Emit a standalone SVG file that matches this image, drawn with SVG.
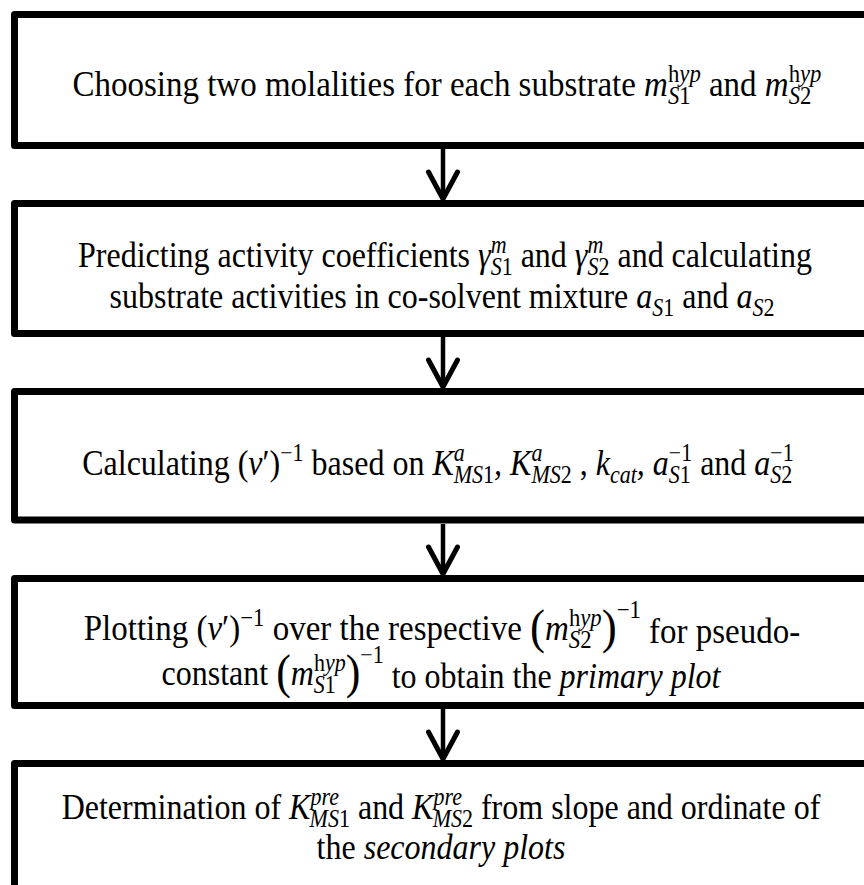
<svg xmlns="http://www.w3.org/2000/svg" width="864" height="885" viewBox="0 0 864 885">
<style>
.box{fill:#fff;stroke:#000;stroke-width:7;stroke-linejoin:round}
.t{font-family:"Liberation Serif","Times New Roman",serif;font-size:32px;fill:#000}
.L{font-size:33px}
.i{font-style:italic}
.s{font-size:22px}
.L .s{font-size:22.7px}
.b{font-size:44px}
.L .b{font-size:45px}
.c{stroke:#000;stroke-width:4.5;fill:none}
</style>
<defs>
<marker id="chev" markerUnits="userSpaceOnUse" markerWidth="40" markerHeight="40" refX="0" refY="0" orient="auto" overflow="visible"><path d="M-27,-14.5 L0,0 L-27,14.5" fill="none" stroke="#000" stroke-width="5" stroke-linecap="round"/></marker>
</defs>
<rect width="864" height="885" fill="#fff"/>
<g id="connectors">
<line class="c" x1="443" y1="149" x2="443" y2="199" marker-end="url(#chev)"/>
<line class="c" x1="443" y1="337" x2="443" y2="387" marker-end="url(#chev)"/>
<line class="c" x1="443" y1="524" x2="443" y2="574" marker-end="url(#chev)"/>
<line class="c" x1="443" y1="709" x2="443" y2="759" marker-end="url(#chev)"/>
</g>
<g id="node1">
<rect class="box" x="14.5" y="14.5" width="900" height="131"/>
<text class="t L" x="447" y="96" text-anchor="middle" transform="matrix(1,0,0,1.1,0,-9.6)">Choosing two molalities for each substrate <tspan class="i">m</tspan><tspan class="s" dy="-13">h<tspan class="i">yp</tspan></tspan><tspan class="s i" dx="-32.8" dy="20">S</tspan><tspan class="s">1</tspan><tspan dx="10.1" dy="-7"> and </tspan><tspan class="i">m</tspan><tspan class="s" dy="-13">h<tspan class="i">yp</tspan></tspan><tspan class="s i" dx="-32.8" dy="20">S</tspan><tspan class="s">2</tspan></text>
</g>
<g id="node2">
<rect class="box" x="14.5" y="203.5" width="900" height="130"/>
<text class="t" x="445" y="267" text-anchor="middle" transform="matrix(1,0,0,1.1,0,-26.7)">Predicting activity coefficients <tspan class="i">γ</tspan><tspan class="s i" dy="-13">m</tspan><tspan class="s i" dx="-15.9" dy="20">S</tspan><tspan class="s">1</tspan><tspan dy="-7"> and </tspan><tspan class="i">γ</tspan><tspan class="s i" dy="-13">m</tspan><tspan class="s i" dx="-15.9" dy="20">S</tspan><tspan class="s">2</tspan><tspan dy="-7"> and calculating</tspan></text>
<text class="t" x="442" y="308" text-anchor="middle" transform="matrix(1,0,0,1.1,0,-30.8)">substrate activities in co-solvent mixture <tspan class="i">a</tspan><tspan class="s i" dy="7">S</tspan><tspan class="s">1</tspan><tspan dy="-7"> and </tspan><tspan class="i">a</tspan><tspan class="s i" dy="7">S</tspan><tspan class="s">2</tspan></text>
</g>
<g id="node3">
<rect class="box" x="14.5" y="391.5" width="900" height="128.5"/>
<text class="t" x="438" y="475" text-anchor="middle" transform="matrix(1,0,0,1.1,0,-47.5)">Calculating (<tspan class="i">ν</tspan>′)<tspan class="s" dy="-13">−1</tspan><tspan dy="13"> based on </tspan><tspan class="i">K</tspan><tspan class="s i" dy="-13">a</tspan><tspan class="s i" dx="-11" dy="20">MS</tspan><tspan class="s">1</tspan><tspan class="i" dy="-7">, </tspan><tspan class="i">K</tspan><tspan class="s i" dy="-13">a</tspan><tspan class="s i" dx="-11" dy="20">MS</tspan><tspan class="s">2</tspan><tspan dy="-7"> , </tspan><tspan class="i">k</tspan><tspan class="s i" dy="7">cat</tspan><tspan class="i" dy="-7">, </tspan><tspan class="i">a</tspan><tspan class="s" dy="-13">−1</tspan><tspan class="s i" dx="-23.4" dy="20">S</tspan><tspan class="s">1</tspan><tspan dx="1.4" dy="-7"> and </tspan><tspan class="i">a</tspan><tspan class="s" dy="-13">−1</tspan><tspan class="s i" dx="-23.4" dy="20">S</tspan><tspan class="s">2</tspan></text>
</g>
<g id="node4">
<rect class="box" x="14.5" y="578.5" width="900" height="127"/>
<text class="t L" x="442" y="640" text-anchor="middle" transform="matrix(1,0,0,1.1,0,-64)">Plotting (<tspan class="i">ν</tspan>′)<tspan class="s" dy="-13">−1</tspan><tspan dy="13"> over the respective </tspan><tspan class="b" dy="3">(</tspan><tspan class="i" dy="-3">m</tspan><tspan class="s" dy="-13">h<tspan class="i">yp</tspan></tspan><tspan class="s i" dx="-32.8" dy="20">S</tspan><tspan class="s">2</tspan><tspan class="b" dx="10.1" dy="-4">)</tspan><tspan class="s" dy="-23">−1</tspan><tspan dy="23"> for pseudo-</tspan></text>
<text class="t" x="441" y="685" text-anchor="middle" transform="matrix(1,0,0,1.1,0,-68.5)">constant <tspan class="b" dy="3">(</tspan><tspan class="i" dy="-3">m</tspan><tspan class="s" dy="-13">h<tspan class="i">yp</tspan></tspan><tspan class="s i" dx="-31.8" dy="20">S</tspan><tspan class="s">1</tspan><tspan class="b" dx="9.8" dy="-4">)</tspan><tspan class="s" dy="-23">−1</tspan><tspan dy="23"> to obtain the </tspan><tspan class="i">primary plot</tspan></text>
</g>
<g id="node5">
<rect class="box" x="14.5" y="763.5" width="900" height="200"/>
<text class="t" x="441" y="819" text-anchor="middle" transform="matrix(1,0,0,1.1,0,-81.9)">Determination of <tspan class="i">K</tspan><tspan class="s i" dy="-13">pre</tspan><tspan class="s i" dx="-29.3" dy="20">MS</tspan><tspan class="s">1</tspan><tspan dy="-7"> and </tspan><tspan class="i">K</tspan><tspan class="s i" dy="-13">pre</tspan><tspan class="s i" dx="-29.3" dy="20">MS</tspan><tspan class="s">2</tspan><tspan dy="-7"> from slope and ordinate of</tspan></text>
<text class="t" x="441" y="859" text-anchor="middle" transform="matrix(1,0,0,1.1,0,-85.9)">the <tspan class="i">secondary plots</tspan></text>
</g>
</svg>
